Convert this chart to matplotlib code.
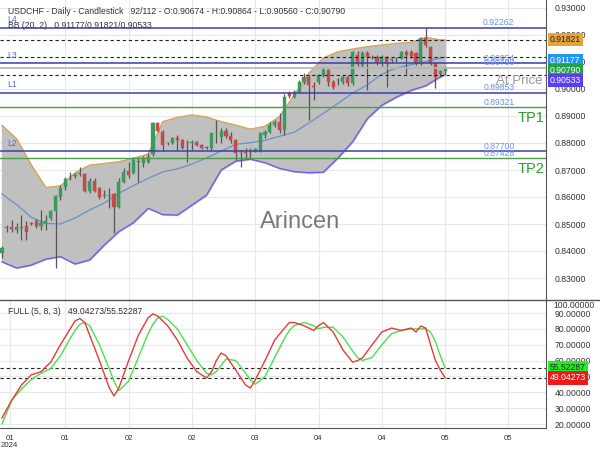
import matplotlib
matplotlib.use("Agg")
import matplotlib.pyplot as plt
from matplotlib.lines import Line2D
import numpy as np

plt.rcParams["font.family"] = ["Liberation Sans", "DejaVu Sans"]

# ---------------- data ----------------
opens = [0.8394,0.8486,0.8490,0.8478,0.8487,0.8494,0.8503,0.8510,0.8494,0.8499,
         0.8524,0.8549,0.8601,0.8636,0.8673,0.8678,0.8686,0.8685,0.8622,0.8659,
         0.8632,0.8605,0.8605,0.8611,0.8564,0.8657,0.8698,0.8688,0.8733,0.8725,
         0.8731,0.8758,0.8873,0.8842,0.8800,0.8799,0.8820,0.8811,0.8800,0.8800,
         0.8805,0.8793,0.8786,0.8780,0.8836,0.8823,0.8846,0.8826,0.8811,0.8762,
         0.8765,0.8766,0.8768,0.8774,0.8830,0.8842,0.8867,0.8879,0.8848,0.8985,
         0.8970,0.8990,0.9027,0.9045,0.9010,0.9027,0.9050,0.9070,0.9027,0.9033,
         0.9027,0.9045,0.9021,0.9126,0.9089,0.9132,0.9117,0.9120,0.9098,0.9117,
         0.9107,0.9110,0.9113,0.9138,0.9138,0.9132,0.9095,0.9188,0.9157,0.9095,
         0.9055,0.90674]
highs = [0.8420,0.8496,0.8514,0.8505,0.8535,0.8510,0.8506,0.8520,0.8552,0.8533,
         0.8553,0.8608,0.8644,0.8673,0.8694,0.8688,0.8712,0.8688,0.8671,0.8669,
         0.8636,0.8626,0.8632,0.8614,0.8669,0.8706,0.8731,0.8747,0.8747,0.8752,
         0.8762,0.8878,0.8879,0.8848,0.8805,0.8823,0.8830,0.8814,0.8811,0.8811,
         0.8808,0.8795,0.8790,0.8838,0.8885,0.8854,0.8854,0.8842,0.8814,0.8774,
         0.8783,0.8783,0.8780,0.8842,0.8848,0.8879,0.8885,0.8910,0.8980,0.8992,
         0.8995,0.9033,0.9060,0.9050,0.9025,0.9055,0.9080,0.9075,0.9035,0.9040,
         0.9050,0.9050,0.9142,0.9140,0.9140,0.9140,0.9125,0.9125,0.9126,0.9122,
         0.9115,0.9120,0.9142,0.9146,0.9143,0.9136,0.9192,0.9226,0.9160,0.9098,
         0.9070,0.90864]
lows = [0.8373,0.8472,0.8472,0.8466,0.8441,0.8441,0.8498,0.8485,0.8479,0.8478,
        0.8516,0.8336,0.8589,0.8626,0.8664,0.8669,0.8678,0.8620,0.8614,0.8620,
        0.8591,0.8595,0.8558,0.8465,0.8558,0.8651,0.8669,0.8685,0.8654,0.8711,
        0.8725,0.8752,0.8842,0.8772,0.8793,0.8795,0.8774,0.8777,0.8731,0.8774,
        0.8790,0.8777,0.8777,0.8774,0.8799,0.8799,0.8817,0.8799,0.8737,0.8712,
        0.8740,0.8740,0.8765,0.8768,0.8817,0.8836,0.8861,0.8836,0.8830,0.8968,
        0.8965,0.8985,0.9020,0.8885,0.8960,0.9020,0.9045,0.9010,0.9000,0.9015,
        0.9020,0.9010,0.9015,0.9085,0.9080,0.8996,0.9110,0.9090,0.9085,0.9008,
        0.9095,0.9100,0.9110,0.9056,0.9115,0.9090,0.9090,0.9155,0.9090,0.9003,
        0.9045,0.90560]
closes = [0.8410,0.8490,0.8482,0.8490,0.8488,0.8470,0.8501,0.8493,0.8505,0.8511,
          0.8548,0.8604,0.8632,0.8667,0.8674,0.8678,0.8690,0.8624,0.8659,0.8624,
          0.8601,0.8605,0.8608,0.8564,0.8657,0.8694,0.8682,0.8737,0.8731,0.8740,
          0.8747,0.8873,0.8846,0.8793,0.8799,0.8817,0.8811,0.8780,0.8799,0.8801,
          0.8793,0.8780,0.8783,0.8836,0.8836,0.8846,0.8826,0.8811,0.8764,0.8764,
          0.8764,0.8765,0.8777,0.8836,0.8842,0.8867,0.8879,0.8848,0.8972,0.8975,
          0.8990,0.9027,0.9045,0.9015,0.9009,0.9050,0.9070,0.9027,0.9009,0.9032,
          0.9045,0.9021,0.9138,0.9093,0.9135,0.9117,0.9118,0.9101,0.9120,0.9098,
          0.9107,0.9112,0.9138,0.9126,0.9122,0.9098,0.9188,0.9163,0.9095,0.9046,
          0.9066,0.90790]

# Bollinger bands (20,2) read at sampled candles
bb_idx = [0,3,6,9,12,15,18,21,24,27,30,33,36,39,42,45,48,51,54,57,60,63,66,69,72,75,78,81,84,87,90,91]
bb_upper = [0.8865,0.8815,0.8718,0.8635,0.8641,0.8690,0.8718,0.8724,0.8731,0.8743,0.8759,0.8879,
            0.8895,0.8904,0.8896,0.8879,0.8866,0.8851,0.8862,0.8898,0.8978,0.9058,0.9115,0.9138,
            0.9148,0.9157,0.9163,0.9169,0.9173,0.9191,0.9182,0.91821]
bb_lower = [0.8360,0.8337,0.8348,0.8370,0.8379,0.8352,0.8367,0.8422,0.8472,0.8505,0.8558,0.8535,
            0.8533,0.8570,0.8607,0.8700,0.8733,0.8740,0.8727,0.8706,0.8694,0.8690,0.8692,0.8745,
            0.8805,0.8890,0.8940,0.8970,0.8995,0.9012,0.9045,0.90533]
bb_mid = [0.8611,0.8572,0.8525,0.8502,0.8500,0.8522,0.8552,0.8578,0.8614,0.8642,0.8669,0.8693,
          0.8704,0.8722,0.8745,0.8770,0.8795,0.8801,0.8810,0.8825,0.8840,0.8874,0.8910,0.8947,
          0.8985,0.9015,0.9055,0.9078,0.9090,0.9101,0.9115,0.91177]

# Stochastic full (5,8,3)
osc_idx = [0,2,4,6,8,10,12,14,15,16,17,18,20,22,23,24,26,28,30,31,32,33,34,36,38,40,42,43,44,45,46,48,
           50,51,52,54,56,58,59,60,62,64,65,66,68,70,72,73,74,76,78,80,82,84,85,86,87,88,89,90,91]
stoch_k = [23.8,35,44.6,51,53,59,70,80,85,86.5,84,76,60,43,37.7,42.7,60,76,87,89.5,88,85,82,73,61.6,53,49,
           52.8,60,64.8,63,54,44.6,42.7,47.8,60,73,80.5,84,84,82,79,82,84,78,66.7,59,60,61.6,70,78,
           80.5,79,80.5,78,81.8,80.5,70,60,54,49.04273]
stoch_d = [20,35,42,48,52,55,63,74,79,83,84,82,70,55,47,41,47,62,77,83,87,88,86,80,70,60,52,51,53,57,61,
           60,52,48,45,50,62,74,79,82,84,82,80,81,81,75,66,62,60,62,70,77,79,80,80,80,80,78,72,63,
           55.52287]

x_tick_pos = [1.6, 13, 26, 39, 52, 65, 78, 91, 104]
x_tick_labels = ["01\n2024", "01", "02", "02", "03", "04", "04", "05", "05"]

level_names = ["L4", "L3", "L1", "L2"]
level_values = [0.92262, 0.90954, 0.89853, 0.87700]
tp_names = ["TP1", "TP2"]
tp_values = [0.89321, 0.87428]
at_price = 0.90790

price_ticks = [0.83, 0.84, 0.85, 0.86, 0.87, 0.88, 0.89, 0.90, 0.91, 0.92, 0.93]
osc_ticks = [20, 30, 40, 50, 60, 70, 80, 90]

# ---------------- figure ----------------
fig = plt.figure(figsize=(6, 4.5), dpi=100)
ax = fig.add_axes([0, 1 - 300/450, 546/600, 300/450])
ax2 = fig.add_axes([0, 1 - 428/450, 546/600, 128/450])

XMIN, XMAX = -0.41, 111.7
PX = 1 / 2700.0  # one pixel in price units
grid_c = "#e8e8e8"
txt_c = "#333333"
FS = 6.2

# price panel
ax.set_xlim(XMIN, XMAX)
ax.set_ylim(0.93 - 292 * PX, 0.93 + 8 * PX)
ax.set_yticks(price_ticks)
ax.set_yticklabels([f"{v:.5f}" for v in price_ticks])
ax.yaxis.tick_right()
ax.tick_params(axis="y", length=0, labelsize=FS, colors=txt_c, pad=6.5)
ax.tick_params(axis="x", length=0, labelbottom=False)
ax.set_xticks(x_tick_pos[1:])
ax.grid(True, color=grid_c, lw=0.8)
ax.set_axisbelow(True)
for s in ["left", "top", "bottom"]:
    ax.spines[s].set_visible(False)
ax.spines["right"].set_color("#555555")

# bands
ax.fill_between(bb_idx, bb_lower, bb_upper, color="#c0c0c0", zorder=1)
ax.plot(bb_idx, bb_upper, color="#d9a55a", lw=1, zorder=2)
ax.plot(bb_idx, bb_lower, color="#6f5fe6", lw=1, zorder=2)
ax.plot(bb_idx, bb_mid, color="#6b8fc9", lw=0.9, zorder=2)

# candles
o = np.array(opens); h = np.array(highs); l = np.array(lows); c = np.array(closes)
idx = np.arange(len(o))
up = c >= o
col = np.where(up, "#3d9a5e", "#c44b4b")
ax.vlines(idx, l, h, colors="#555555", lw=0.9, zorder=3)
body_b = np.minimum(o, c)
body_h = np.maximum(np.abs(c - o), 0.00025)
ax.bar(idx, body_h, bottom=body_b, width=0.64, color=col, edgecolor=col, lw=0.3, zorder=4)

# horizontal levels
for name, v in zip(level_names, level_values):
    ax.axhline(v, color="#3a3fb0", lw=1.1, zorder=5)
    ax.text(1.0, v + 8 * PX, name, color="#5566dd", fontsize=FS, va="center", ha="left", zorder=6)
for name, v in zip(tp_names, tp_values):
    ax.axhline(v, color="#4a9e4a", lw=1.0, zorder=5)
    ax.text(111.3, v - 11 * PX, name, color="#2e9a2e", fontsize=10.5, va="center", ha="right", zorder=6)
ax.axhline(at_price, color="#b5b5b5", lw=1.2, zorder=5)
ax.text(111.0, at_price - 13 * PX, "At Price", color="#9a9a9a", fontsize=9.5, va="center", ha="right", zorder=6)
for v in [bb_upper[-1], bb_mid[-1], bb_lower[-1]]:
    ax.axhline(v, color="#222222", lw=0.8, ls=(0, (3, 2.5)), zorder=5)

for v in level_values + tp_values + [at_price]:
    ax.text(102, v + 5 * PX, f"{v:.5f}", color="#6d8ff0", fontsize=FS, ha="center", va="center", zorder=6)

# right axis colored labels
def price_tag(a, v, fc, tc, dy=0):
    a.annotate(f"{v:.5f}", xy=(1, v), xycoords=("axes fraction", "data"),
               xytext=(4, dy), textcoords="offset pixels", va="center", ha="left",
               fontsize=FS, color=tc, annotation_clip=False,
               bbox=dict(boxstyle="square,pad=0.25", fc=fc, ec="none"), zorder=10)

price_tag(ax, bb_upper[-1], "#e5a53a", "#222222")
price_tag(ax, bb_mid[-1], "#2196f3", "white", dy=-3)
price_tag(ax, closes[-1], "#22a14a", "white", dy=-3)
price_tag(ax, bb_lower[-1], "#5a3ef0", "white", dy=-6)

# header texts
ax.text(0.014, 0.978, "USDCHF - Daily - Candlestick   92/112 - O:0.90674 - H:0.90864 - L:0.90560 - C:0.90790",
        transform=ax.transAxes, fontsize=FS, color=txt_c, va="top", ha="left", zorder=8)
ax.text(0.014, 0.929, "BB (20, 2)   0.91177/0.91821/0.90533", transform=ax.transAxes,
        fontsize=FS, color=txt_c, va="top", ha="left", zorder=8)
ax.text(0.549, 0.26, "Arincen", transform=ax.transAxes, fontsize=17, color="#7a7a7a",
        ha="center", va="center", zorder=7)

# oscillator
ax2.set_xlim(XMIN, XMAX)
ax2.set_ylim(17.48, 98.2)
ax2.set_yticks(osc_ticks)
ax2.set_yticklabels([f"{v:.5f}" for v in osc_ticks])
ax2.yaxis.tick_right()
ax2.tick_params(axis="y", length=0, labelsize=FS, colors=txt_c, pad=6.5)
ax2.set_xticks(x_tick_pos)
ax2.set_xticklabels(x_tick_labels, linespacing=0.95)
ax2.tick_params(axis="x", length=0, labelsize=5.6, colors=txt_c, pad=5)
ax2.grid(True, color=grid_c, lw=0.8)
ax2.set_axisbelow(True)
for s in ["left", "top"]:
    ax2.spines[s].set_visible(False)
ax2.spines["right"].set_color("#555555")
ax2.spines["bottom"].set_color("#555555")
ax2.plot(osc_idx, stoch_d, color="#4ce04c", lw=1.0, zorder=3)
ax2.plot(osc_idx, stoch_k, color="#e83a3a", lw=1.0, zorder=4)
ax2.axhline(stoch_d[-1], color="#222222", lw=0.8, ls=(0, (3, 2.5)))
ax2.axhline(stoch_k[-1], color="#222222", lw=0.8, ls=(0, (3, 2.5)))
ax2.text(0.014, 0.945, "FULL (5, 8, 3)   49.04273/55.52287", transform=ax2.transAxes,
         fontsize=FS, color=txt_c, va="top", ha="left")
ax2.annotate("100.00000", xy=(1, 1), xycoords="axes fraction", xytext=(7, -5),
             textcoords="offset pixels", fontsize=FS, color=txt_c, va="center", ha="left",
             annotation_clip=False)
price_tag(ax2, stoch_d[-1], "#22ee22", "#222222")
price_tag(ax2, stoch_k[-1], "#ee1a1a", "white")

# panel separator across full width
fig.add_artist(Line2D([0, 1], [1 - 300/450, 1 - 300/450], transform=fig.transFigure,
                      color="#555555", lw=1.0))

fig.savefig("out.png", dpi=100)
